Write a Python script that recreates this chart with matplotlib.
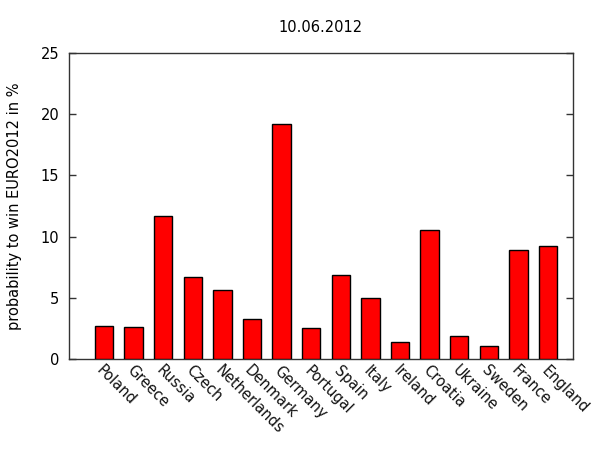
import matplotlib
matplotlib.use("Agg")
import matplotlib.pyplot as plt
import matplotlib.transforms as mtransforms
import numpy as np

countries = ["Poland", "Greece", "Russia", "Czech", "Netherlands", "Denmark",
             "Germany", "Portugal", "Spain", "Italy", "Ireland", "Croatia",
             "Ukraine", "Sweden", "France", "England"]
probabilities = [2.7, 2.6, 11.7, 6.7, 5.6, 3.3, 19.2, 2.5, 6.9, 5.0, 1.4,
                 10.5, 1.9, 1.1, 8.9, 9.2]
yticks = [0, 5, 10, 15, 20, 25]
title = "10.06.2012"
ylabel = "probability to win EURO2012 in %"

plt.rcParams['font.family'] = ['DejaVu Sans']
fig = plt.figure(figsize=(6, 4.5), dpi=100)
ax = fig.add_axes([69/600, 1 - 359/450, (573-69)/600, (359-53)/450])

x = np.arange(len(countries))
ax.bar(x, probabilities, width=0.62, color="#ff0000", edgecolor="black",
       linewidth=1.0, zorder=3)

ax.set_xlim(-1.18, 15.84)
ax.set_ylim(0, 25)
ax.set_yticks(yticks)
ax.set_yticklabels([str(v) for v in yticks], fontsize=10.5)
ax.tick_params(axis='y', direction='in', length=5, width=1, right=True,
               left=True, pad=7, color='#333333')
ax.set_xticks(x)
ax.set_xticklabels([])
ax.tick_params(axis='x', length=0)

offset = mtransforms.ScaledTranslation(-10/100, -4/100, fig.dpi_scale_trans)
for xi, name in zip(x, countries):
    ax.text(xi, 0, name, rotation=-45, ha='left', va='top', fontsize=10.5,
            transform=ax.get_xaxis_transform() + offset, rotation_mode='default',
            color='#111111')

for s in ax.spines.values():
    s.set_linewidth(1.0)
    s.set_color('#333333')

fig.text(320/600, 1 - 27/450, title, ha='center', va='center', fontsize=10.5)
fig.text(15/600, 1 - 206/450, ylabel, ha='center', va='center', rotation=90,
         fontsize=10.5)

fig.savefig("out.png", dpi=100)
